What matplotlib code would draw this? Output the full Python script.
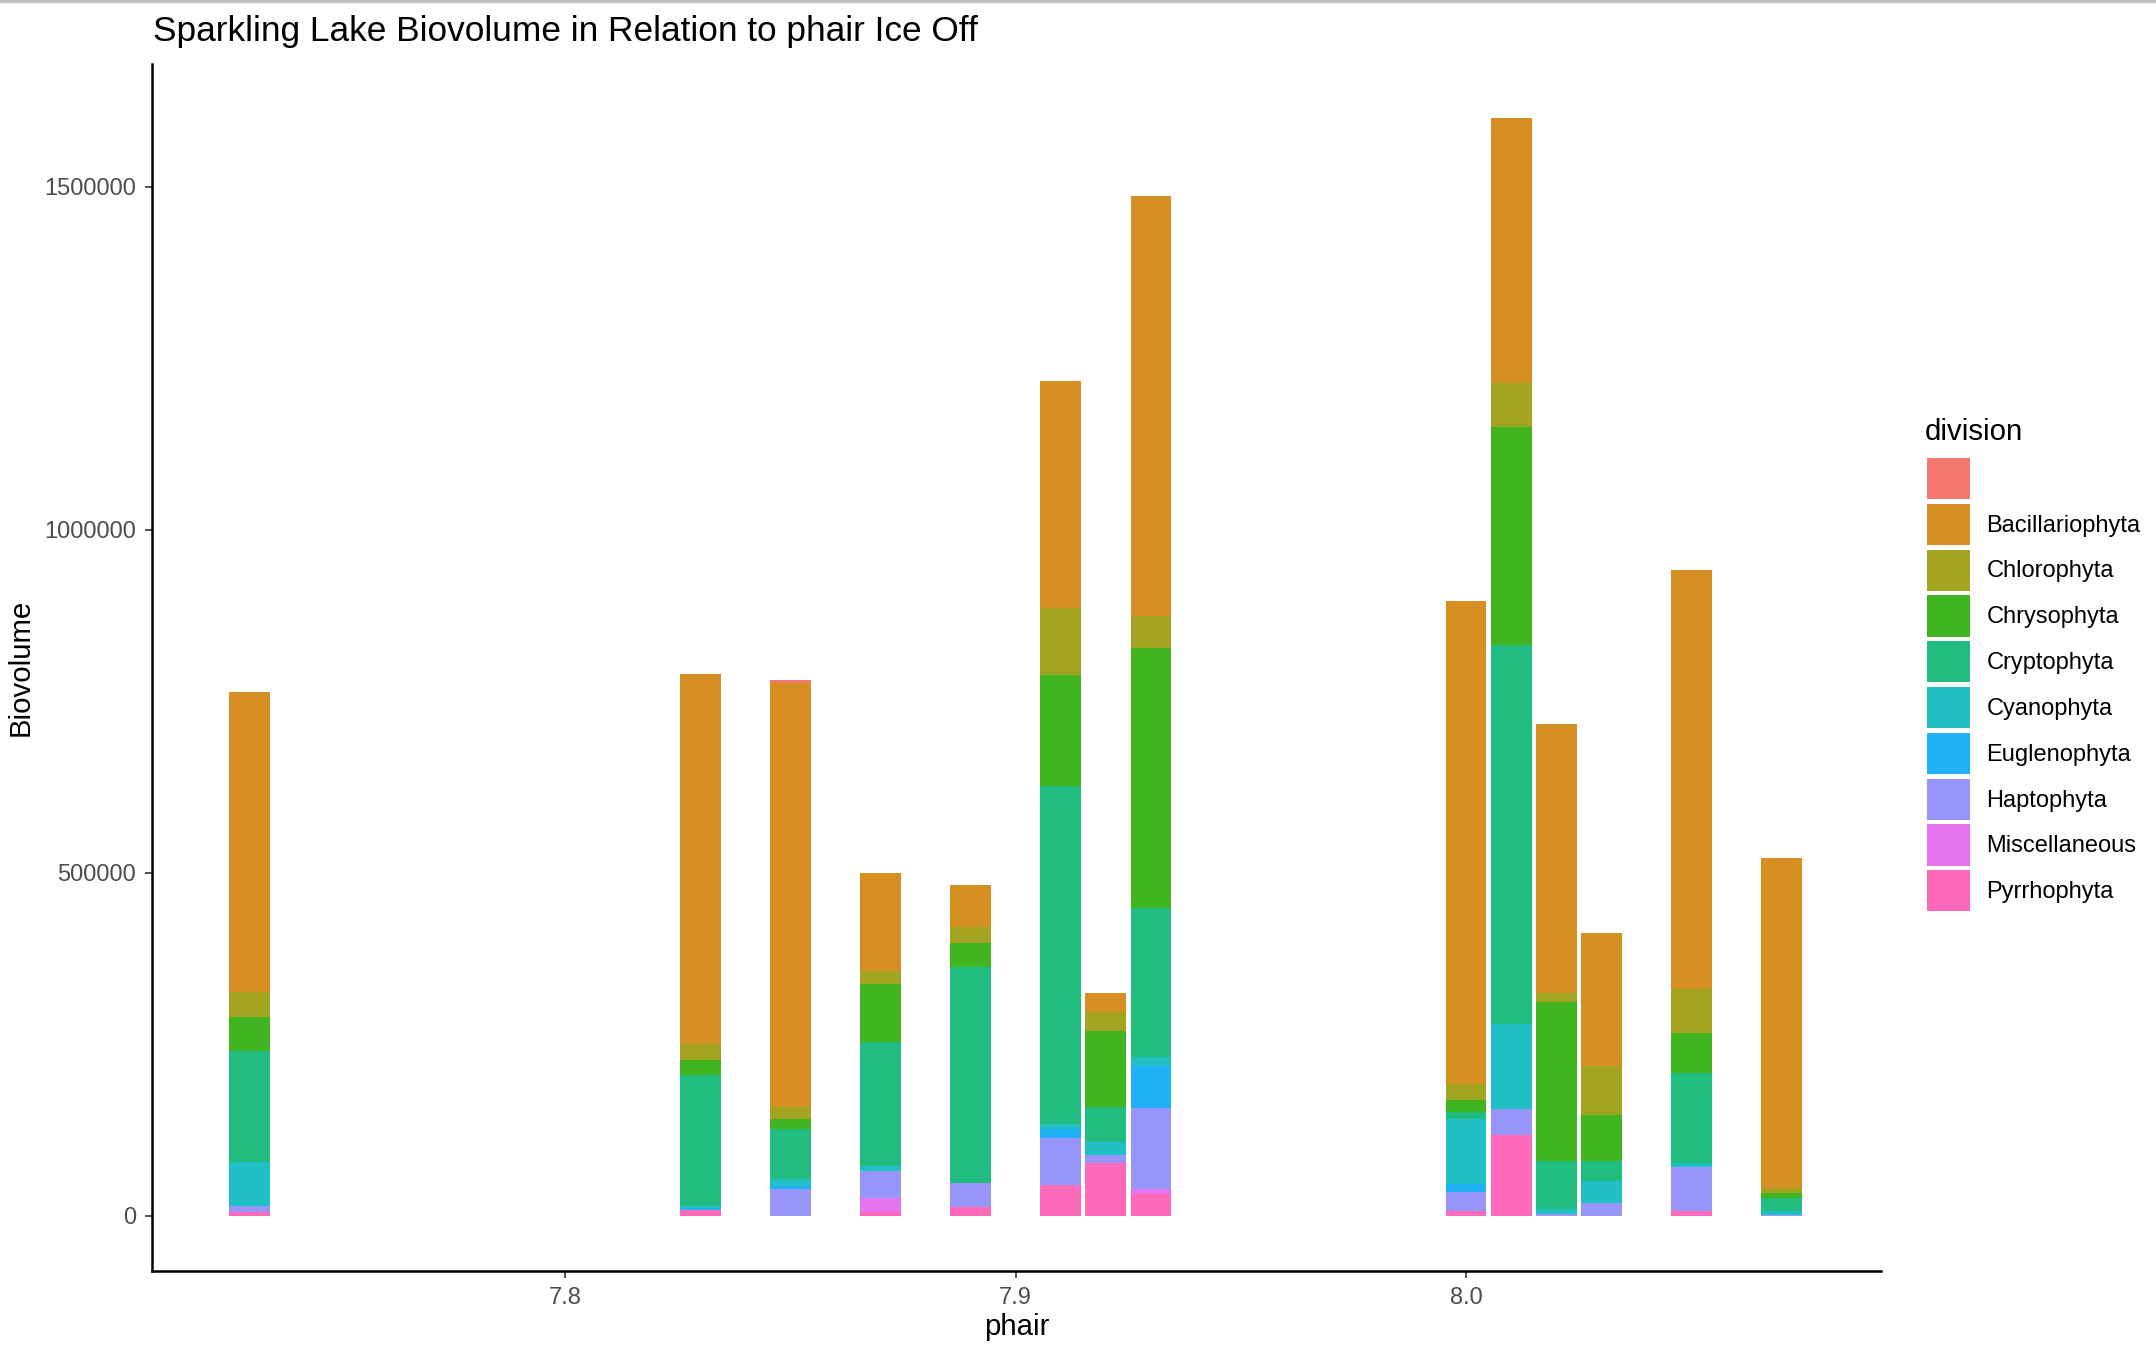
import matplotlib
matplotlib.use('Agg')
import matplotlib.pyplot as plt
import matplotlib.patches as mpatches
from matplotlib.lines import Line2D
import numpy as np

plt.rcParams['font.family'] = ['Liberation Sans', 'DejaVu Sans']

# phair value of each sample
phair = [7.73, 7.83, 7.85, 7.87, 7.89, 7.91, 7.92, 7.93, 8.00, 8.01, 8.02, 8.03, 8.05, 8.07]

# biovolume per division (one value per phair bar)
blank = [0, 0, 4600, 0, 0, 0, 0, 0, 0, 0, 0, 0, 0, 0]
bacillariophyta = [436800, 539700, 617300, 142700, 61900, 331700, 27400, 612000, 704800, 386900, 393100, 193000, 610100, 481700]
chlorophyta = [36500, 22200, 17600, 19000, 22200, 97000, 26700, 46700, 23500, 63000, 11700, 71700, 65200, 7200]
chrysophyta = [49600, 22800, 15700, 84700, 35200, 162400, 110800, 378400, 17600, 318000, 232800, 67800, 57400, 6500]
cryptophyta = [163000, 191000, 73000, 180600, 314900, 491500, 50900, 217100, 9100, 553100, 69100, 29300, 131000, 19600]
cyanophyta = [64000, 2600, 9800, 7200, 0, 7800, 20200, 13100, 95900, 123200, 8400, 31900, 5900, 5200]
euglenophyta = [0, 2600, 4600, 0, 0, 12400, 0, 61200, 10400, 0, 0, 0, 0, 0]
haptophyta = [8500, 0, 38500, 40400, 35800, 69800, 11700, 118700, 28700, 38500, 2000, 18300, 65200, 1300]
miscellaneous = [0, 0, 0, 19500, 0, 0, 0, 7800, 0, 0, 0, 0, 0, 0]
pyrrhophyta = [5200, 8500, 0, 5900, 12400, 44300, 76300, 31300, 6500, 117300, 0, 0, 6500, 0]

divisions = ['', 'Bacillariophyta', 'Chlorophyta', 'Chrysophyta', 'Cryptophyta',
             'Cyanophyta', 'Euglenophyta', 'Haptophyta', 'Miscellaneous', 'Pyrrhophyta']
series = [blank, bacillariophyta, chlorophyta, chrysophyta, cryptophyta,
          cyanophyta, euglenophyta, haptophyta, miscellaneous, pyrrhophyta]
colors = ['#F47770', '#D58F22', '#A3A522', '#40B520', '#20BC80',
          '#20BFC4', '#20B0F5', '#9895FA', '#E474F0', '#FF69B9']

fig = plt.figure(figsize=(10.78, 6.76), dpi=200)
ax = fig.add_axes([0.0705, 0.060, 0.802, 0.8927])

# ggplot stacks the first level on top, so draw from the last level up
bottom = np.zeros(len(phair))
for name, vals, col in reversed(list(zip(divisions, series, colors))):
    ax.bar(phair, vals, width=0.009, bottom=bottom, color=col, linewidth=0)
    bottom += np.array(vals)

ax.set_xlim(7.7083, 8.0921)
ax.set_ylim(-80300, 1678800)
ax.set_xticks([7.8, 7.9, 8.0])
ax.set_xticklabels(['7.8', '7.9', '8.0'])
ax.set_yticks([0, 500000, 1000000, 1500000])
ax.set_yticklabels(['0', '500000', '1000000', '1500000'])

for side in ['top', 'right']:
    ax.spines[side].set_visible(False)
for side in ['left', 'bottom']:
    ax.spines[side].set_linewidth(0.9)
    ax.spines[side].set_color('black')
ax.tick_params(axis='both', length=2.5, width=0.6, color='#333333',
               labelcolor='#4D4D4D', labelsize=8.5, pad=3.2)

ax.set_xlabel('phair', fontsize=10.6, va='center')
ax.set_ylabel('Biovolume', fontsize=10.6, va='center')
ax.xaxis.set_label_coords(0.5, -0.0469)
ax.yaxis.set_label_coords(-0.0758, 0.5)

fig.text(153 / 2156, 1 - 31 / 1352, 'Sparkling Lake Biovolume in Relation to phair Ice Off',
         fontsize=12.7, ha='left', va='center')

# legend: title as its own text so the gap to the keys can match
fig.text(1925 / 2156, 1 - 432 / 1352, 'division', fontsize=10.6, ha='left', va='center')
handles = [mpatches.Patch(facecolor=c, edgecolor='none') for c in colors]
fig.legend(handles, divisions, loc='upper left', bbox_to_anchor=(1927 / 2156, 1 - 458 / 1352),
           frameon=False, fontsize=8.5,
           handlelength=1.82, handleheight=2.3, labelspacing=0.2, handletextpad=0.7,
           borderaxespad=0, borderpad=0)

fig.add_artist(Line2D([0, 1], [0.9993, 0.9993], color='#C0C0C0', linewidth=1.2))

fig.savefig('out.png', dpi=200)
